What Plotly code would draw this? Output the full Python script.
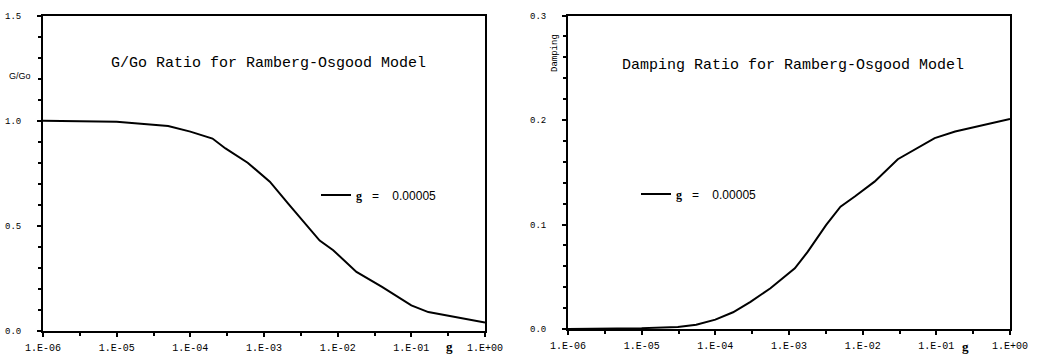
import plotly.graph_objects as go

# ---- data ----
strain_g = [1e-6, 1e-5, 5e-5, 1e-4, 2e-4, 3e-4, 6e-4, 1.2e-3, 2.2e-3, 5.7e-3,
            8.7e-3, 1.8e-2, 4e-2, 1e-1, 1.7e-1, 1.0]
g_ratio = [1.0, 0.995, 0.975, 0.948, 0.915, 0.868, 0.80, 0.71, 0.60, 0.43,
           0.384, 0.281, 0.21, 0.122, 0.09, 0.04]

strain_d = [1e-6, 1e-5, 3.1e-5, 5.5e-5, 1e-4, 1.74e-4, 3e-4, 5.6e-4, 1.2e-3,
            1.8e-3, 3.2e-3, 5e-3, 7.9e-3, 1.45e-2, 3e-2, 9.5e-2, 1.8e-1, 1.0]
damping = [0.0, 0.0008, 0.002, 0.004, 0.009, 0.016, 0.026, 0.039, 0.058,
           0.074, 0.0997, 0.117, 0.127, 0.141, 0.1625, 0.1827, 0.189, 0.201]

x_tickvals = [1e-6, 1e-5, 1e-4, 1e-3, 1e-2, 1e-1, 1.0]
x_ticktext = ["1.E-06", "1.E-05", "1.E-04", "1.E-03", "1.E-02", "1.E-01", "1.E+00"]
x_minor = [10 ** (-5.5), 10 ** (-4.5), 10 ** (-3.5), 10 ** (-2.5), 10 ** (-1.5), 10 ** (-0.5)]

legend_label = ('<span style="font-family:Liberation Serif"><b>g</b></span>'
                "\u00a0\u00a0\u00a0=\u00a0\u00a0\u00a0\u00a00.00005")
title_left = "G/Go Ratio for Ramberg-Osgood Model"
title_right = "Damping Ratio for Ramberg-Osgood Model"

W, H = 1038, 360

fig = go.Figure()
fig.add_trace(go.Scatter(x=strain_g, y=g_ratio, mode="lines", name=legend_label,
                         line=dict(color="black", width=2), xaxis="x", yaxis="y",
                         legend="legend"))
fig.add_trace(go.Scatter(x=strain_d, y=damping, mode="lines", name=legend_label,
                         line=dict(color="black", width=2), xaxis="x2", yaxis="y2",
                         legend="legend2"))

mono = "Liberation Mono"
xcommon = dict(type="log", range=[-6, 0], tickmode="array", tickvals=x_tickvals,
               ticktext=x_ticktext, showgrid=False, zeroline=False, automargin=False,
               showline=True, linecolor="black", linewidth=2, mirror=True,
               ticks="outside", ticklen=4, tickwidth=2, tickcolor="black",
               ticklabelstandoff=2,
               tickfont=dict(family=mono, size=10, color="black"),
               minor=dict(tickmode="array", tickvals=x_minor, ticks="outside",
                          ticklen=3, tickwidth=2, tickcolor="black", showgrid=False))
ycommon = dict(showgrid=False, zeroline=False, showline=True, linecolor="black",
               linewidth=2, mirror=True, ticks="outside", ticklen=4, tickwidth=2,
               tickcolor="black", ticklabelstandoff=14, automargin=False,
               tickfont=dict(family=mono, size=9, color="black"))


def ann(text, x, y, **kw):
    d = dict(text=text, x=x / W, y=1 - y / H, xref="paper", yref="paper",
             xanchor="center", yanchor="middle", showarrow=False)
    d.update(kw)
    return d


fig.update_layout(
    width=W, height=H,
    margin=dict(l=0, r=0, t=0, b=0),
    paper_bgcolor="white", plot_bgcolor="white",
    xaxis=dict(domain=[43 / W, 485 / W], anchor="y", **xcommon),
    xaxis2=dict(domain=[568 / W, 1010 / W], anchor="y2", **xcommon),
    yaxis=dict(domain=[1 - 331 / H, 1 - 15.5 / H], anchor="x", range=[0, 1.5], tickmode="array",
               tickvals=[0, 0.5, 1.0, 1.5], ticktext=["0.0", "0.5", "1.0", "1.5"],
               minor=dict(dtick=0.1, ticks="outside", ticklen=3, tickwidth=2,
                          tickcolor="black", showgrid=False),
               **ycommon),
    yaxis2=dict(domain=[1 - 329 / H, 1 - 15.5 / H], anchor="x2", range=[0, 0.3], tickmode="array",
                tickvals=[0, 0.1, 0.2, 0.3], ticktext=["0.0", "0.1", "0.2", "0.3"],
                minor=dict(dtick=0.02, ticks="outside", ticklen=3, tickwidth=2,
                           tickcolor="black", showgrid=False),
                **ycommon),
    showlegend=True,
    legend=dict(x=316 / W, y=1 - 195 / H, xanchor="left", yanchor="middle",
                bgcolor="rgba(0,0,0,0)", font=dict(family="Liberation Sans", size=12, color="black"),
                itemwidth=30, tracegroupgap=0),
    legend2=dict(x=636 / W, y=1 - 194 / H, xanchor="left", yanchor="middle",
                 bgcolor="rgba(0,0,0,0)", font=dict(family="Liberation Sans", size=12, color="black"),
                 itemwidth=30, tracegroupgap=0),
    annotations=[
        ann(title_left, 268, 63, font=dict(family=mono, size=15, color="black")),
        ann(title_right, 793, 65, font=dict(family=mono, size=15, color="black")),
        ann("G/Go", 20, 76, font=dict(family="Liberation Sans", size=9, color="black")),
        ann("Damping", 555, 53, textangle=-90, font=dict(family=mono, size=9, color="black")),
        ann("<b>g</b>", 449, 346, font=dict(family="Liberation Serif", size=13, color="black")),
        ann("<b>g</b>", 965, 346, font=dict(family="Liberation Serif", size=13, color="black")),
    ],
)

fig.write_html("out.html")
